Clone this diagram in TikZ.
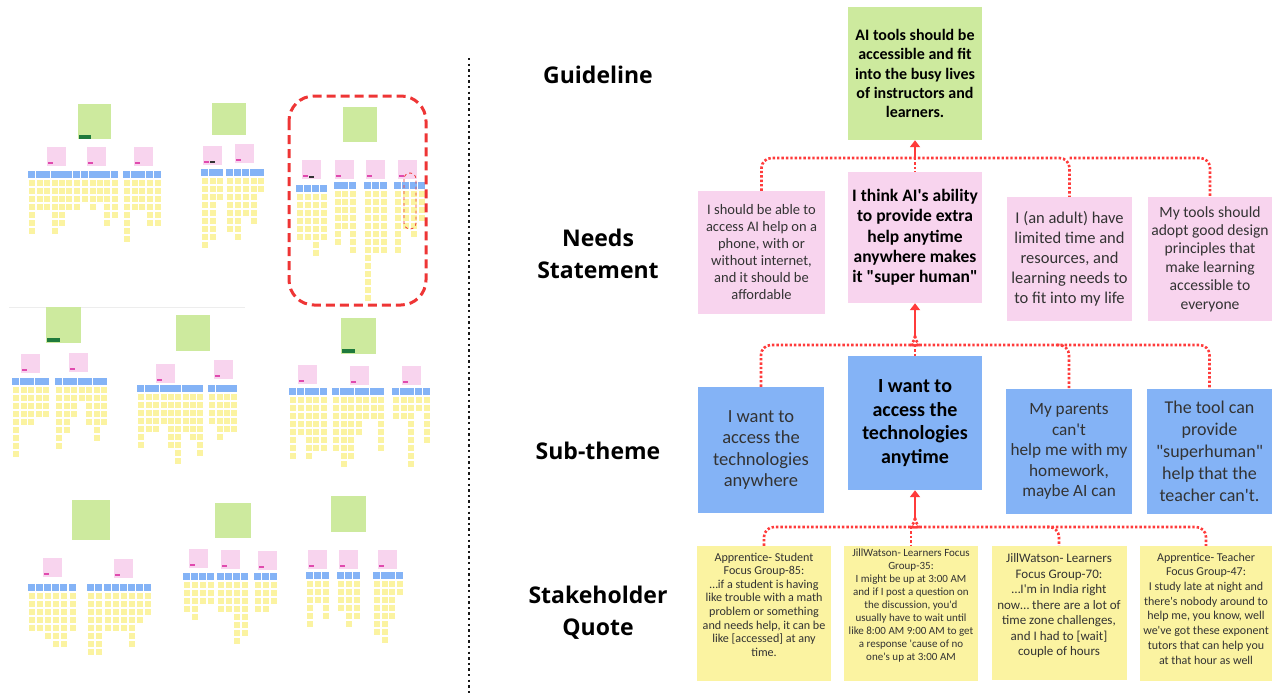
\documentclass[tikz,border=0pt]{standalone}
\usepackage{fontspec}
\setmainfont{Carlito}[Ligatures=TeXOff]
\newfontfamily\headfont{Open Sans}
\usetikzlibrary{arrows.meta}
\definecolor{note_green}{HTML}{CDEA9E}
\definecolor{note_pink}{HTML}{F8D4EE}
\definecolor{note_blue}{HTML}{84B3F6}
\definecolor{note_yellow}{HTML}{FBF3A1}
\definecolor{tag_green}{HTML}{1F7A3C}
\definecolor{tag_pink}{HTML}{E04AAE}
\definecolor{link_red}{HTML}{FF3B3B}
\definecolor{frame_red}{HTML}{EE3535}
\definecolor{ink_gray}{HTML}{333333}

\newcommand{\fsz}[2]{\fontsize{#1}{#2}\selectfont}
% small notes of the board overview
\newcommand{\thumbgreen}[4]{\fill[note_green] (#1,#2) rectangle (#3,#4);}
\newcommand{\thumbpink}[2]{\fill[note_pink] (#1,#2) rectangle ++(18.5,18.5);
  \fill[tag_pink] (#1+1,#2+15) rectangle ++(5,1.8);}
\newcommand{\thumbtheme}[2]{%
  \foreach \cx/\cn in {#2} {
    \fill[note_blue] (\cx,#1) rectangle ++(6.8,7);
    \foreach \k in {1,...,\cn}
      \fill[note_yellow] (\cx+0.5,#1+1+\k*8) rectangle ++(6,6.4);
  }}

\begin{document}
\begin{tikzpicture}[x=1pt, y=-1pt,
  rowlabel/.style={font=\headfont\bfseries\fsz{23}{32}, align=center, text=black},
  card/.style={inner sep=0pt, align=center, text=ink_gray},
  guidecard/.style={card, fill=note_green, text=black, font=\bfseries\fsz{16}{19.3}},
  needcard/.style={card, fill=note_pink},
  themecard/.style={card, fill=note_blue},
  quotecard/.style={card, fill=note_yellow},
  dotlink/.style={draw=link_red, line width=2.6pt, dash pattern=on 2.4pt off 2pt},
  uplink/.style={draw=link_red, line width=2.4pt, -{Triangle[length=7pt, width=10pt]}},
]
\useasboundingbox (0,0) rectangle (1272,694);

% board overview
\draw[black!7, line width=0.8pt] (9,307.5) -- (245,307.5);

\thumbgreen{78}{104}{111}{139}
\fill[tag_green] (79,134.5) rectangle (91,138.5);
\thumbpink{47}{147} \thumbpink{87}{147} \thumbpink{134}{147}
\thumbtheme{171}{28/7,36/4,43/4,51/7,58/6,65/4}
\thumbtheme{171}{73/4,81/3,89/4,96/3,103/6,111/5}
\thumbtheme{171}{123/8,131/4,138/4,146/6,154/6}

\thumbgreen{212}{103}{246}{135}
\thumbpink{203}{146} \thumbpink{235}{144}
\fill[black!80] (210,161) rectangle ++(5,2.2);
\thumbtheme{169}{201/9,209/8,216/3}
\thumbtheme{169}{226/7,234/8,242/5,250/6,257/2}

\thumbgreen{343}{107}{377}{142}
\thumbpink{302}{160} \thumbpink{335}{160} \thumbpink{366}{160} \thumbpink{398}{160}
\fill[black!80] (309,176) rectangle ++(5,2.2);
\thumbtheme{185}{296/6,304/6,312/8,320/6}
\thumbtheme{182}{334/7,341/5,349/8}
\thumbtheme{182}{364/14,372/8,380/8}
\thumbtheme{182}{394/8,402/5,410/6,418/4}
\draw[frame_red, line width=0.8pt, dashed, rounded corners=6pt] (404,173) rectangle (416,229);
\draw[frame_red, line width=3pt, dash pattern=on 9pt off 5pt, rounded corners=25pt] (289,96) rectangle (426,305);

\thumbgreen{46}{307}{81}{343}
\fill[tag_green] (47,338) rectangle (60,342);
\thumbpink{21}{354} \thumbpink{69}{353}
\thumbtheme{378}{12/9,20/5,27/5,35/4,42/4}
\thumbtheme{378}{55/8,63/6,70/4,78/2,85/5,93/7,100/5}

\thumbgreen{176}{315}{210}{351}
\thumbpink{156}{364} \thumbpink{214}{360}
\thumbtheme{385}{137/7,145/5,152/5,160/4,167/7,174/9,182/5,189/6,196/8}
\thumbtheme{385}{208/4,216/6,223/5,230/5}

\thumbgreen{341}{318}{376}{354}
\fill[tag_green] (342,349) rectangle (355,353);
\thumbpink{298}{365} \thumbpink{350}{366} \thumbpink{402}{366}
\thumbtheme{388}{289/8,297/5,305/8,312/7,320/7}
\thumbtheme{388}{332/7,340/9,347/8,355/5,362/3,370/3,377/7}
\thumbtheme{388}{392/3,400/3,407/9,415/2,423/6}

\thumbgreen{72}{500}{110}{540}
\thumbpink{43}{558} \thumbpink{114}{559}
\thumbtheme{584}{28/5,36/5,44/6,52/7,60/7,69/5}
\thumbtheme{584}{87/8,95/8,104/5,112/5,120/5,128/7,136/4,144/3}

\thumbgreen{215}{503}{251}{538}
\thumbpink{189}{549} \thumbpink{221}{550} \thumbpink{258}{551}
\thumbtheme{573}{183/4,191/5,199/3,207/3}
\thumbtheme{573}{217/4,225/4,233/8,241/7}
\thumbtheme{573}{254/4,262/4,270/3}

\thumbgreen{331}{496}{366}{532}
\thumbpink{308}{550} \thumbpink{339}{550} \thumbpink{378}{550}
\thumbtheme{572}{306/6,314/3,322/5}
\thumbtheme{572}{337/4,345/6,353/5}
\thumbtheme{572}{373/7,381/8,388/5,396/2}

\draw[black!90, line width=2.4pt, dash pattern=on 2.4pt off 3.2pt] (469,58) -- (469,694);

% row labels
\node[rowlabel] (lab_guide) at (598,75) {Guideline};
\node[rowlabel] (lab_need) at (598,254) {Needs\\Statement};
\node[rowlabel] (lab_theme) at (598,451) {Sub-theme};
\node[rowlabel] (lab_quote) at (598,613) {Stakeholder\\Quote};

% cards
\node[guidecard, minimum width=134pt, minimum height=133pt] (guide) at (915,73.5)
  {AI tools should be\\accessible and fit\\into the busy lives\\of instructors and\\learners.};

\node[needcard, font=\fsz{14.5}{17}, minimum width=127pt, minimum height=123pt] (need1) at (761.5,252.5)
  {I should be able to\\access AI help on a\\phone, with or\\without internet,\\and it should be\\affordable};
\node[needcard, text=black, font=\bfseries\fsz{17.5}{20.3}, minimum width=134pt, minimum height=131pt] (need2) at (915,237.5)
  {I think AI's ability\\to provide extra\\help anytime\\anywhere makes\\it "super human"};
\node[needcard, font=\fsz{16.5}{20}, minimum width=125pt, minimum height=124pt] (need3) at (1069.5,259)
  {I (an adult) have\\limited time and\\resources, and\\learning needs to\\to fit into my life};
\node[needcard, font=\fsz{15.6}{18.4}, minimum width=124pt, minimum height=124pt] (need4) at (1210,259)
  {My tools should\\adopt good design\\principles that\\make learning\\accessible to\\everyone};

\node[themecard, font=\fsz{18.5}{21.5}, minimum width=126pt, minimum height=126pt] (theme1) at (761,450)
  {I want to\\access the\\technologies\\anywhere};
\node[themecard, text=black, font=\bfseries\fsz{20}{23.5}, minimum width=134pt, minimum height=134pt] (theme2) at (915,423)
  {I want to\\access the\\technologies\\anytime};
\node[themecard, font=\fsz{17.2}{20.5}, minimum width=126pt, minimum height=125pt] (theme3) at (1069,451.5)
  {My parents\\can't\\help me with my\\homework,\\maybe AI can};
\node[themecard, font=\fsz{18}{22}, minimum width=125pt, minimum height=125pt] (theme4) at (1209.5,451.5)
  {The tool can\\provide\\"superhuman"\\help that the\\teacher can't.};

\node[quotecard, minimum width=134pt, minimum height=135pt] (quote1) at (764,613.5) {};
\node[quotecard, minimum width=134.5pt, minimum height=135pt] (quote2) at (911,613.5) {};
\node[quotecard, minimum width=135pt, minimum height=134pt] (quote3) at (1059,613) {};
\node[quotecard, minimum width=132pt, minimum height=135pt] (quote4) at (1206,613.5) {};
\node[card, font=\fsz{12.1}{13.6}] (quote1txt) at (764,604.5)
  {Apprentice- Student\\Focus Group-85:\\…if a student is having\\like trouble with a math\\problem or something\\and needs help, it can be\\like [accessed] at any\\time.};
\node[card, font=\fsz{11}{13}] (quote2txt) at (911,606)
  {JillWatson- Learners Focus\\Group-35:\\I might be up at 3:00 AM\\and if I post a question on\\the discussion, you'd\\usually have to wait until\\like 8:00 AM 9:00 AM to get\\a response 'cause of no\\one's up at 3:00 AM};
\node[card, font=\fsz{13}{15.5}] (quote3txt) at (1059,606)
  {JillWatson- Learners\\Focus Group-70:\\…I'm in India right\\now… there are a lot of\\time zone challenges,\\and I had to [wait]\\couple of hours};
\node[card, font=\fsz{12}{14.7}] (quote4txt) at (1206,608.5)
  {Apprentice- Teacher\\Focus Group-47:\\I study late at night and\\there's nobody around to\\help me, you know, well\\we've got these exponent\\tutors that can help you\\at that hour as well};

% links between levels
\coordinate (needjoin) at (915,158);
\draw[dotlink, rounded corners=10pt] (need1.north) |- (needjoin) -| (need3.north);
\draw[dotlink, rounded corners=10pt] (need3.north |- needjoin) -| (need4.north);
\draw[dotlink] (needjoin) -- (need2.north);
\draw[uplink] (needjoin) -- (guide.south);

\coordinate (themejoin) at (915,336);
\coordinate (themerow) at (915,345);
\draw[dotlink, rounded corners=10pt] (theme1.north) |- ([xshift=-12pt]themerow) to[out=0, in=-90] (themejoin);
\draw[dotlink, rounded corners=10pt] (themejoin) to[out=-90, in=180] ([xshift=12pt]themerow) -| (theme4.north);
\draw[dotlink, rounded corners=10pt] ([xshift=-12pt]theme3.north |- themerow) -| (theme3.north);
\draw[dotlink] (themerow) -- (theme2.north);
\draw[uplink] (themejoin) -- (need2.south);

\coordinate (quotejoin) at (915,518);
\coordinate (quoterow) at (915,527);
\draw[dotlink, rounded corners=10pt] (quote1.north) |- ([xshift=-12pt]quoterow) to[out=0, in=-90] (quotejoin);
\draw[dotlink, rounded corners=10pt] (quotejoin) to[out=-90, in=180] ([xshift=12pt]quoterow) -| (quote4.north);
\draw[dotlink, rounded corners=10pt] ([xshift=-12pt]quote3.north |- quoterow) -| (quote3.north);
\draw[dotlink] (quote2.north |- quoterow) -- (quote2.north);
\draw[uplink] (quotejoin) -- (theme2.south);
\end{tikzpicture}
\end{document}
